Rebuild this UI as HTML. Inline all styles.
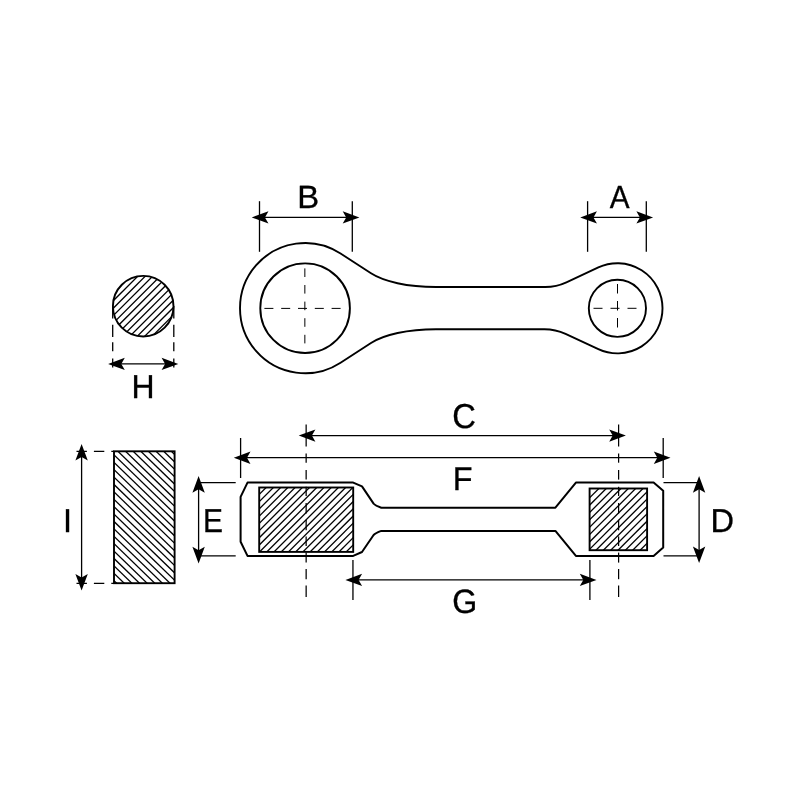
<!DOCTYPE html>
<html><head><meta charset="utf-8"><title>Connecting rod dimensions</title>
<style>
html,body{margin:0;padding:0;background:#fff;}
body{width:800px;height:800px;overflow:hidden;}
svg{display:block;filter:grayscale(1);}
.main{fill:none;stroke:#000;stroke-width:1.9;stroke-linejoin:round;}
.m2{fill:none;stroke:#000;stroke-width:2.0;stroke-linejoin:round;}
.m3{fill:none;stroke:#000;stroke-width:1.9;stroke-linejoin:miter;}
.thin{fill:none;stroke:#000;stroke-width:1.3;}
.hatch{fill:none;stroke:#000;stroke-width:1.3;}
.cl{fill:none;stroke:#000;stroke-width:1.0;}
.cl2{fill:none;stroke:#000;stroke-width:1.25;}
.ar{fill:#000;stroke:none;}
text{font-family:"Liberation Sans",sans-serif;font-size:31px;fill:#000;text-anchor:middle;text-rendering:geometricPrecision;stroke:#000;stroke-width:0.3px;}
</style></head>
<body>
<svg width="800" height="800" viewBox="0 0 800 800">
<rect x="0" y="0" width="800" height="800" fill="#fff"/>
<path class="main" d="M340.56,253.55 L371.00,273.32 C383.64,281.53 407.44,287.00 436.00,287.00 L545.28,287.00 A50.00,50.00 0 0 0 566.41,282.32 L598.34,267.43 A45.10,45.10 0 1 1 598.34,349.17 L565.55,333.88 A50.00,50.00 0 0 0 544.42,329.20 L436.00,329.20 C407.54,329.20 383.73,334.71 371.00,342.98 L340.56,362.75 A65.10,65.10 0 1 1 340.56,253.55 Z"/>
<circle class="main" cx="305.10" cy="308.15" r="44.80"/>
<circle class="main" cx="617.40" cy="308.30" r="28.60"/>
<line class="cl" x1="264.40" y1="308.40" x2="341.00" y2="308.40" stroke-dasharray="9 7.8"/>
<line class="cl" x1="304.85" y1="268.40" x2="304.85" y2="345.00" stroke-dasharray="8.6 8"/>
<line class="cl" x1="593.50" y1="308.30" x2="637.00" y2="308.30" stroke-dasharray="9 8"/>
<line class="cl" x1="617.50" y1="284.00" x2="617.50" y2="328.00" stroke-dasharray="9.5 7.5"/>
<line class="thin" x1="259.50" y1="201.20" x2="259.50" y2="251.80"/>
<line class="thin" x1="352.30" y1="201.20" x2="352.30" y2="251.80"/>
<polygon class="ar" points="251.75,217.40 268.45,211.20 264.95,217.40 268.45,223.60"/>
<polygon class="ar" points="359.40,217.40 342.70,211.20 346.20,217.40 342.70,223.60"/>
<line class="thin" x1="264.25" y1="217.40" x2="346.90" y2="217.40"/>
<line class="thin" x1="587.60" y1="201.20" x2="587.60" y2="251.80"/>
<line class="thin" x1="646.30" y1="201.20" x2="646.30" y2="251.80"/>
<polygon class="ar" points="580.25,217.40 596.95,211.20 593.45,217.40 596.95,223.60"/>
<polygon class="ar" points="653.10,217.40 636.40,211.20 639.90,217.40 636.40,223.60"/>
<line class="thin" x1="592.75" y1="217.40" x2="640.60" y2="217.40"/>
<text transform="translate(308.30 208.05) scale(1.060 1.040)">B</text>
<text transform="translate(619.60 208.05) scale(0.960 1.035)">A</text>
<clipPath id="ch"><circle cx="143.20" cy="306.20" r="30.30"/></clipPath>
<g clip-path="url(#ch)">
<line class="hatch" x1="-15.74" y1="400.00" x2="184.26" y2="200.00"/>
<line class="hatch" x1="-8.30" y1="400.00" x2="191.70" y2="200.00"/>
<line class="hatch" x1="-0.86" y1="400.00" x2="199.14" y2="200.00"/>
<line class="hatch" x1="6.58" y1="400.00" x2="206.58" y2="200.00"/>
<line class="hatch" x1="14.02" y1="400.00" x2="214.02" y2="200.00"/>
<line class="hatch" x1="21.46" y1="400.00" x2="221.46" y2="200.00"/>
<line class="hatch" x1="28.90" y1="400.00" x2="228.90" y2="200.00"/>
<line class="hatch" x1="36.34" y1="400.00" x2="236.34" y2="200.00"/>
<line class="hatch" x1="43.78" y1="400.00" x2="243.78" y2="200.00"/>
<line class="hatch" x1="51.22" y1="400.00" x2="251.22" y2="200.00"/>
<line class="hatch" x1="58.66" y1="400.00" x2="258.66" y2="200.00"/>
<line class="hatch" x1="66.10" y1="400.00" x2="266.10" y2="200.00"/>
<line class="hatch" x1="73.54" y1="400.00" x2="273.54" y2="200.00"/>
<line class="hatch" x1="80.98" y1="400.00" x2="280.98" y2="200.00"/>
<line class="hatch" x1="88.42" y1="400.00" x2="288.42" y2="200.00"/>
<line class="hatch" x1="95.86" y1="400.00" x2="295.86" y2="200.00"/>
<line class="hatch" x1="103.30" y1="400.00" x2="303.30" y2="200.00"/>
<line class="hatch" x1="110.74" y1="400.00" x2="310.74" y2="200.00"/>
<line class="hatch" x1="118.18" y1="400.00" x2="318.18" y2="200.00"/>
</g>
<circle class="m3" cx="143.20" cy="306.20" r="30.30"/>
<line class="thin" x1="112.70" y1="306.00" x2="112.70" y2="318.50"/>
<line class="thin" x1="112.70" y1="324.80" x2="112.70" y2="337.00"/>
<line class="thin" x1="112.70" y1="342.20" x2="112.70" y2="351.30"/>
<line class="thin" x1="112.70" y1="358.50" x2="112.70" y2="367.50"/>
<line class="thin" x1="173.80" y1="306.00" x2="173.80" y2="318.50"/>
<line class="thin" x1="173.80" y1="324.80" x2="173.80" y2="337.00"/>
<line class="thin" x1="173.80" y1="342.20" x2="173.80" y2="351.30"/>
<line class="thin" x1="173.80" y1="358.50" x2="173.80" y2="367.50"/>
<polygon class="ar" points="108.10,363.90 124.80,357.70 121.30,363.90 124.80,370.10"/>
<polygon class="ar" points="178.30,363.90 161.60,357.70 165.10,363.90 161.60,370.10"/>
<line class="thin" x1="120.60" y1="363.90" x2="165.80" y2="363.90"/>
<text transform="translate(143.00 397.55) scale(1.030 1.065)">H</text>
<clipPath id="ci"><rect x="114.00" y="451.30" width="60.60" height="131.90"/></clipPath>
<g clip-path="url(#ci)">
<line class="hatch" x1="100.00" y1="352.52" x2="190.00" y2="439.82"/>
<line class="hatch" x1="100.00" y1="359.92" x2="190.00" y2="447.22"/>
<line class="hatch" x1="100.00" y1="367.32" x2="190.00" y2="454.62"/>
<line class="hatch" x1="100.00" y1="374.72" x2="190.00" y2="462.02"/>
<line class="hatch" x1="100.00" y1="382.12" x2="190.00" y2="469.42"/>
<line class="hatch" x1="100.00" y1="389.52" x2="190.00" y2="476.82"/>
<line class="hatch" x1="100.00" y1="396.92" x2="190.00" y2="484.22"/>
<line class="hatch" x1="100.00" y1="404.32" x2="190.00" y2="491.62"/>
<line class="hatch" x1="100.00" y1="411.72" x2="190.00" y2="499.02"/>
<line class="hatch" x1="100.00" y1="419.12" x2="190.00" y2="506.42"/>
<line class="hatch" x1="100.00" y1="426.52" x2="190.00" y2="513.82"/>
<line class="hatch" x1="100.00" y1="433.92" x2="190.00" y2="521.22"/>
<line class="hatch" x1="100.00" y1="441.32" x2="190.00" y2="528.62"/>
<line class="hatch" x1="100.00" y1="448.72" x2="190.00" y2="536.02"/>
<line class="hatch" x1="100.00" y1="456.12" x2="190.00" y2="543.42"/>
<line class="hatch" x1="100.00" y1="463.52" x2="190.00" y2="550.82"/>
<line class="hatch" x1="100.00" y1="470.92" x2="190.00" y2="558.22"/>
<line class="hatch" x1="100.00" y1="478.32" x2="190.00" y2="565.62"/>
<line class="hatch" x1="100.00" y1="485.72" x2="190.00" y2="573.02"/>
<line class="hatch" x1="100.00" y1="493.12" x2="190.00" y2="580.42"/>
<line class="hatch" x1="100.00" y1="500.52" x2="190.00" y2="587.82"/>
<line class="hatch" x1="100.00" y1="507.92" x2="190.00" y2="595.22"/>
<line class="hatch" x1="100.00" y1="515.32" x2="190.00" y2="602.62"/>
<line class="hatch" x1="100.00" y1="522.72" x2="190.00" y2="610.02"/>
<line class="hatch" x1="100.00" y1="530.12" x2="190.00" y2="617.42"/>
<line class="hatch" x1="100.00" y1="537.52" x2="190.00" y2="624.82"/>
<line class="hatch" x1="100.00" y1="544.92" x2="190.00" y2="632.22"/>
<line class="hatch" x1="100.00" y1="552.32" x2="190.00" y2="639.62"/>
<line class="hatch" x1="100.00" y1="559.72" x2="190.00" y2="647.02"/>
<line class="hatch" x1="100.00" y1="567.12" x2="190.00" y2="654.42"/>
<line class="hatch" x1="100.00" y1="574.52" x2="190.00" y2="661.82"/>
<line class="hatch" x1="100.00" y1="581.92" x2="190.00" y2="669.22"/>
</g>
<rect class="m3" x="114.00" y="451.30" width="60.60" height="131.90"/>
<line class="thin" x1="76.50" y1="451.30" x2="114.00" y2="451.30" stroke-dasharray="10.4 7"/>
<line class="thin" x1="76.50" y1="583.30" x2="114.00" y2="583.30" stroke-dasharray="10.4 7"/>
<polygon class="ar" points="81.60,443.90 75.40,460.60 81.60,457.10 87.80,460.60"/>
<polygon class="ar" points="81.60,590.60 75.40,573.90 81.60,577.40 87.80,573.90"/>
<line class="thin" x1="81.60" y1="456.40" x2="81.60" y2="578.10"/>
<text transform="translate(67.65 531.55) scale(1.050 1.065)">I</text>
<path class="m2" d="M240.6,496.9 L247.5,482.60 L353.2,482.60 L362,486.4 L373.6,503.6 Q375.5,505.6 381.3,507.70 L555.4,507.70 L575.9,482.60 L653.6,482.60 L663.2,490.8 L663.2,547.6 L653.6,555.90 L575.9,555.90 L555.4,530.90 L381.3,530.90 Q375.5,533 373.6,535 L362,552 L353.2,555.90 L247.5,555.90 L240.6,541.8 Z"/>
<clipPath id="cb"><rect x="259.20" y="487.50" width="94.00" height="64.40"/></clipPath>
<g clip-path="url(#cb)">
<line class="hatch" x1="196.80" y1="556.90" x2="271.20" y2="482.50"/>
<line class="hatch" x1="204.02" y1="556.90" x2="278.42" y2="482.50"/>
<line class="hatch" x1="211.24" y1="556.90" x2="285.64" y2="482.50"/>
<line class="hatch" x1="218.46" y1="556.90" x2="292.86" y2="482.50"/>
<line class="hatch" x1="225.68" y1="556.90" x2="300.08" y2="482.50"/>
<line class="hatch" x1="232.90" y1="556.90" x2="307.30" y2="482.50"/>
<line class="hatch" x1="240.12" y1="556.90" x2="314.52" y2="482.50"/>
<line class="hatch" x1="247.34" y1="556.90" x2="321.74" y2="482.50"/>
<line class="hatch" x1="254.56" y1="556.90" x2="328.96" y2="482.50"/>
<line class="hatch" x1="261.78" y1="556.90" x2="336.18" y2="482.50"/>
<line class="hatch" x1="269.00" y1="556.90" x2="343.40" y2="482.50"/>
<line class="hatch" x1="276.22" y1="556.90" x2="350.62" y2="482.50"/>
<line class="hatch" x1="283.44" y1="556.90" x2="357.84" y2="482.50"/>
<line class="hatch" x1="290.66" y1="556.90" x2="365.06" y2="482.50"/>
<line class="hatch" x1="297.88" y1="556.90" x2="372.28" y2="482.50"/>
<line class="hatch" x1="305.10" y1="556.90" x2="379.50" y2="482.50"/>
<line class="hatch" x1="312.32" y1="556.90" x2="386.72" y2="482.50"/>
<line class="hatch" x1="319.54" y1="556.90" x2="393.94" y2="482.50"/>
<line class="hatch" x1="326.76" y1="556.90" x2="401.16" y2="482.50"/>
<line class="hatch" x1="333.98" y1="556.90" x2="408.38" y2="482.50"/>
<line class="hatch" x1="341.20" y1="556.90" x2="415.60" y2="482.50"/>
<line class="hatch" x1="348.42" y1="556.90" x2="422.82" y2="482.50"/>
</g>
<rect class="m3" x="259.20" y="487.50" width="94.00" height="64.40"/>
<clipPath id="cs"><rect x="589.60" y="488.50" width="57.50" height="61.70"/></clipPath>
<g clip-path="url(#cs)">
<line class="hatch" x1="532.20" y1="555.20" x2="603.90" y2="483.50"/>
<line class="hatch" x1="539.55" y1="555.20" x2="611.25" y2="483.50"/>
<line class="hatch" x1="546.90" y1="555.20" x2="618.60" y2="483.50"/>
<line class="hatch" x1="554.25" y1="555.20" x2="625.95" y2="483.50"/>
<line class="hatch" x1="561.60" y1="555.20" x2="633.30" y2="483.50"/>
<line class="hatch" x1="568.95" y1="555.20" x2="640.65" y2="483.50"/>
<line class="hatch" x1="576.30" y1="555.20" x2="648.00" y2="483.50"/>
<line class="hatch" x1="583.65" y1="555.20" x2="655.35" y2="483.50"/>
<line class="hatch" x1="591.00" y1="555.20" x2="662.70" y2="483.50"/>
<line class="hatch" x1="598.35" y1="555.20" x2="670.05" y2="483.50"/>
<line class="hatch" x1="605.70" y1="555.20" x2="677.40" y2="483.50"/>
<line class="hatch" x1="613.05" y1="555.20" x2="684.75" y2="483.50"/>
<line class="hatch" x1="620.40" y1="555.20" x2="692.10" y2="483.50"/>
<line class="hatch" x1="627.75" y1="555.20" x2="699.45" y2="483.50"/>
<line class="hatch" x1="635.10" y1="555.20" x2="706.80" y2="483.50"/>
<line class="hatch" x1="642.45" y1="555.20" x2="714.15" y2="483.50"/>
</g>
<rect class="m3" x="589.60" y="488.50" width="57.50" height="61.70"/>
<line class="cl2" x1="306.15" y1="424.50" x2="306.15" y2="434.00"/>
<line class="cl2" x1="306.15" y1="437.00" x2="306.15" y2="446.50"/>
<line class="cl2" x1="306.15" y1="453.50" x2="306.15" y2="462.70"/>
<line class="cl2" x1="306.15" y1="470.00" x2="306.15" y2="479.60"/>
<line class="cl2" x1="306.15" y1="486.80" x2="306.15" y2="496.00"/>
<line class="cl2" x1="306.15" y1="503.00" x2="306.15" y2="513.50"/>
<line class="cl2" x1="306.15" y1="519.80" x2="306.15" y2="530.30"/>
<line class="cl2" x1="306.15" y1="536.40" x2="306.15" y2="546.00"/>
<line class="cl2" x1="306.15" y1="552.60" x2="306.15" y2="562.60"/>
<line class="cl2" x1="306.15" y1="569.00" x2="306.15" y2="579.20"/>
<line class="cl2" x1="306.15" y1="585.50" x2="306.15" y2="597.00"/>
<line class="cl2" x1="618.60" y1="424.50" x2="618.60" y2="434.00"/>
<line class="cl2" x1="618.60" y1="437.00" x2="618.60" y2="446.50"/>
<line class="cl2" x1="618.60" y1="453.50" x2="618.60" y2="462.70"/>
<line class="cl2" x1="618.60" y1="470.00" x2="618.60" y2="479.60"/>
<line class="cl2" x1="618.60" y1="486.80" x2="618.60" y2="496.00"/>
<line class="cl2" x1="618.60" y1="503.00" x2="618.60" y2="513.50"/>
<line class="cl2" x1="618.60" y1="519.80" x2="618.60" y2="530.30"/>
<line class="cl2" x1="618.60" y1="536.40" x2="618.60" y2="546.00"/>
<line class="cl2" x1="618.60" y1="552.60" x2="618.60" y2="562.60"/>
<line class="cl2" x1="618.60" y1="569.00" x2="618.60" y2="579.20"/>
<line class="cl2" x1="618.60" y1="585.50" x2="618.60" y2="597.00"/>
<polygon class="ar" points="298.70,435.60 315.40,429.40 311.90,435.60 315.40,441.80"/>
<polygon class="ar" points="625.90,435.60 609.20,429.40 612.70,435.60 609.20,441.80"/>
<line class="thin" x1="311.20" y1="435.60" x2="613.40" y2="435.60"/>
<line class="thin" x1="240.60" y1="438.00" x2="240.60" y2="478.00"/>
<line class="thin" x1="663.20" y1="438.00" x2="663.20" y2="478.00"/>
<polygon class="ar" points="233.80,457.70 250.50,451.50 247.00,457.70 250.50,463.90"/>
<polygon class="ar" points="670.50,457.70 653.80,451.50 657.30,457.70 653.80,463.90"/>
<line class="thin" x1="246.30" y1="457.70" x2="658.00" y2="457.70"/>
<line class="thin" x1="352.95" y1="560.00" x2="352.95" y2="599.90"/>
<line class="thin" x1="589.90" y1="560.00" x2="589.90" y2="599.90"/>
<polygon class="ar" points="345.40,579.90 362.10,573.70 358.60,579.90 362.10,586.10"/>
<polygon class="ar" points="596.50,579.90 579.80,573.70 583.30,579.90 579.80,586.10"/>
<line class="thin" x1="357.90" y1="579.90" x2="584.00" y2="579.90"/>
<line class="thin" x1="199.00" y1="482.60" x2="235.70" y2="482.60"/>
<line class="thin" x1="199.00" y1="555.90" x2="235.70" y2="555.90"/>
<polygon class="ar" points="198.60,476.10 192.40,492.80 198.60,489.30 204.80,492.80"/>
<polygon class="ar" points="198.60,563.50 192.40,546.80 198.60,550.30 204.80,546.80"/>
<line class="thin" x1="198.60" y1="488.60" x2="198.60" y2="551.00"/>
<line class="thin" x1="663.50" y1="482.60" x2="699.00" y2="482.60"/>
<line class="thin" x1="663.50" y1="555.90" x2="699.00" y2="555.90"/>
<polygon class="ar" points="699.10,476.00 692.90,492.70 699.10,489.20 705.30,492.70"/>
<polygon class="ar" points="699.10,563.10 692.90,546.40 699.10,549.90 705.30,546.40"/>
<line class="thin" x1="699.10" y1="488.50" x2="699.10" y2="550.60"/>
<text transform="translate(464.00 427.65) scale(1.055 1.115)">C</text>
<text transform="translate(462.60 489.75) scale(1.045 1.055)">F</text>
<text transform="translate(464.80 613.35) scale(1.035 1.085)">G</text>
<text transform="translate(213.00 531.55) scale(0.965 1.065)">E</text>
<text transform="translate(722.30 531.55) scale(1.050 1.065)">D</text>
</svg>
</body></html>
